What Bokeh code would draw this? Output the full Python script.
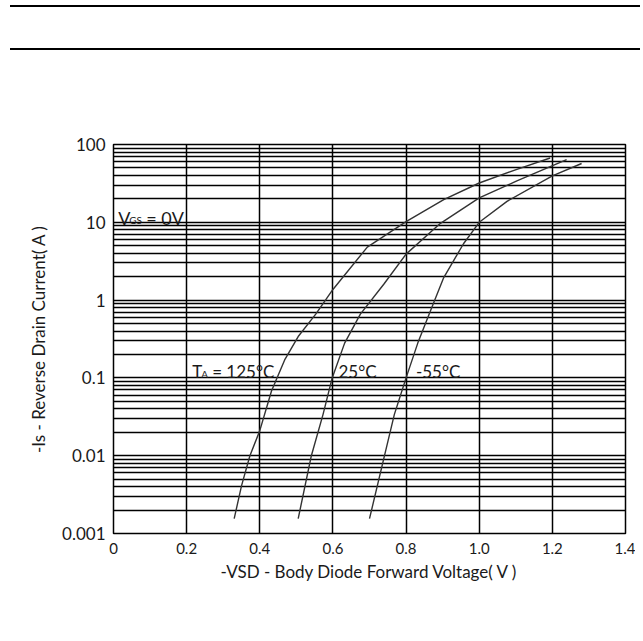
from bokeh.plotting import figure
from bokeh.models import FixedTicker, Label, Div
from bokeh.layouts import column, row
from bokeh.embed import file_html
from bokeh.resources import INLINE

# Body diode forward voltage (V) vs reverse drain current (A)
v_125 = [0.33, 0.35, 0.373, 0.40, 0.432, 0.468, 0.505, 0.553, 0.60, 0.694, 0.80, 0.903, 1.00, 1.103, 1.194]
i_125 = [0.00155, 0.0041, 0.01, 0.021, 0.068, 0.17, 0.34, 0.66, 1.37, 4.8, 10.2, 19.6, 32, 48, 67]

v_25 = [0.505, 0.541, 0.573, 0.598, 0.632, 0.675, 0.739, 0.80, 0.894, 1.00, 1.103, 1.239]
i_25 = [0.00155, 0.01, 0.034, 0.1, 0.28, 0.66, 1.6, 3.9, 9.7, 20.6, 34, 64]

v_m55 = [0.70, 0.741, 0.768, 0.80, 0.832, 0.863, 0.903, 0.957, 1.00, 1.076, 1.20, 1.28]
i_m55 = [0.00155, 0.01, 0.034, 0.1, 0.28, 0.66, 1.95, 5.3, 10, 18.6, 39.5, 57]

x_ticks = [0, 0.2, 0.4, 0.6, 0.8, 1.0, 1.2, 1.4]
x_tick_labels = ["0", "0.2", "0.4", "0.6", "0.8", "1.0", "1.2", "1.4"]
y_ticks = [0.001, 0.01, 0.1, 1, 10, 100]
y_tick_labels = ["0.001", "0.01", "0.1", "1", "10", "100"]

FONT = "Lato"
INK = "#1a1a1a"

p = figure(width=630, height=581, output_backend="svg", toolbar_location=None,
           x_range=(0, 1.4), y_range=(0.001, 100), y_axis_type="log",
           min_border_left=108, min_border_right=10, min_border_top=89, min_border_bottom=103,
           x_axis_label="-VSD - Body Diode Forward Voltage( V )",
           y_axis_label="-Is - Reverse Drain Current( A )")

minor = [m * 10.0 ** e for e in range(-3, 2) for m in range(2, 10)]
p.yaxis.ticker = FixedTicker(ticks=y_ticks, minor_ticks=minor)
p.xaxis.ticker = FixedTicker(ticks=x_ticks)
p.xaxis.major_label_overrides = {t: l for t, l in zip(x_ticks, x_tick_labels)}
p.yaxis.major_label_overrides = {t: l for t, l in zip(y_ticks, y_tick_labels)}

for ax in (p.xaxis, p.yaxis):
    ax.axis_line_color = None
    ax.major_tick_line_color = None
    ax.minor_tick_line_color = None
    ax.major_tick_out = 0
    ax.major_tick_in = 0
    ax.minor_tick_out = 0
    ax.minor_tick_in = 0
    ax.major_label_text_font = FONT
    ax.major_label_text_color = INK
    ax.axis_label_text_font = FONT
    ax.axis_label_text_font_style = "normal"
    ax.axis_label_text_color = INK
    ax.axis_label_text_font_size = "17px"

p.xaxis.major_label_text_font_size = "15px"
p.yaxis.major_label_text_font_size = "17px"
p.xaxis.major_label_standoff = 9
p.yaxis.major_label_standoff = 8
p.xaxis.axis_label_standoff = 4
p.yaxis.axis_label_standoff = 10

p.xgrid.grid_line_color = "black"
p.xgrid.grid_line_width = 1.5
p.ygrid.grid_line_color = "black"
p.ygrid.grid_line_width = 1.5
p.ygrid.minor_grid_line_color = "black"
p.ygrid.minor_grid_line_width = 1.3
p.outline_line_color = "black"
p.outline_line_width = 1.5
p.background_fill_color = "white"

for xs, ys in ((v_125, i_125), (v_25, i_25), (v_m55, i_m55)):
    p.line(xs, ys, line_color="#333333", line_width=1.4)

def lab(x, y, text, size, xoff=0, yoff=0):
    p.add_layout(Label(x=x, y=y, text=text, x_offset=xoff, y_offset=yoff,
                       text_font=FONT, text_font_size=size, text_color=INK,
                       text_baseline="alphabetic", text_align="left"))

# V_GS = 0V
lab(0.013, 11.5, "V", "18px")
lab(0.013, 11.5, "GS", "10px", xoff=11, yoff=-2)
lab(0.013, 11.5, "= 0V", "18px", xoff=28)

# T_A = 125 °C etc.
lab(0.215, 0.12, "T", "17px")
lab(0.215, 0.12, "A", "10px", xoff=9, yoff=-2)
lab(0.215, 0.12, "= 125°C", "17px", xoff=20)
lab(0.615, 0.12, "25°C", "17px")
lab(0.827, 0.12, "-55°C", "17px")

vline = Div(text="&nbsp;", width=2, height=633,
            styles={"background-color": "#000000", "min-width": "2px",
                    "min-height": "633px", "display": "block"})
header = Div(text="", width=630, height=45, styles={"border-top": "2px solid #000",
                                                    "border-bottom": "2px solid #000",
                                                    "box-sizing": "border-box"})
layout = row(vline, column(header, p), styles={"margin-left": "-7px"})

open("out.html", "w").write(file_html(layout, INLINE))
